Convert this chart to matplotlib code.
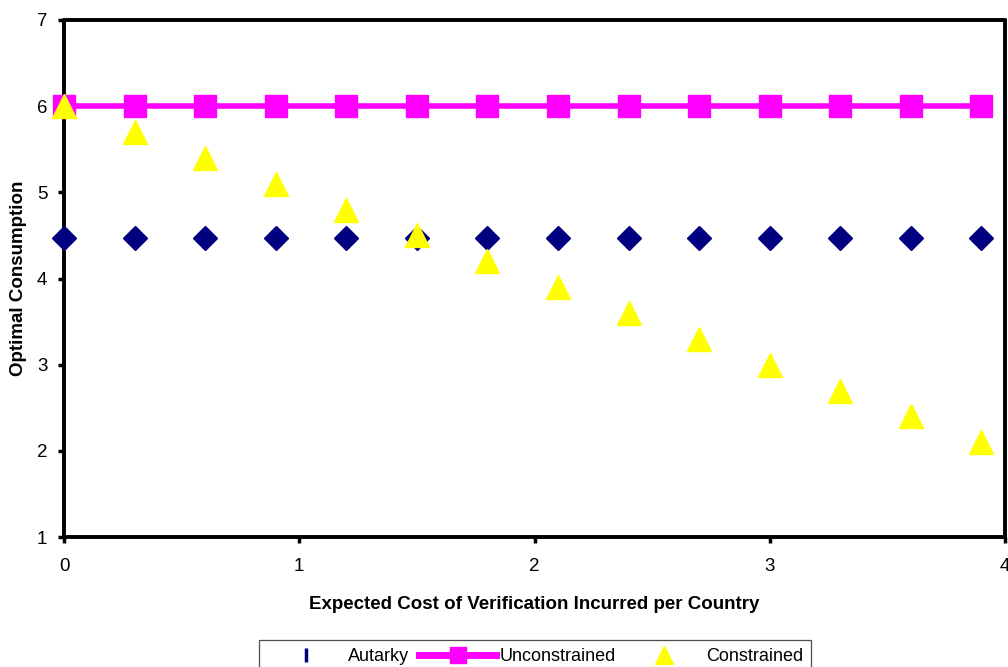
import matplotlib.pyplot as plt
from matplotlib.lines import Line2D

plt.rcParams['font.family'] = ['Liberation Sans', 'DejaVu Sans']

# expected cost of verification per country
cost = [0.0, 0.3, 0.6, 0.9, 1.2, 1.5, 1.8, 2.1, 2.4, 2.7, 3.0, 3.3, 3.6, 3.9]
autarky = [4.47] * 14
unconstrained = [6.0] * 14
constrained = [6.0, 5.7, 5.4, 5.1, 4.8, 4.5, 4.2, 3.9, 3.6, 3.3, 3.0, 2.7, 2.4, 2.1]

x_ticks = [0, 1, 2, 3, 4]
y_ticks = [1, 2, 3, 4, 5, 6, 7]

fig = plt.figure(figsize=(10.08, 6.67), dpi=100)
ax = fig.add_axes([64 / 1008, 130 / 667, 941 / 1008, 517 / 667])

ax.plot(cost, autarky, linestyle='none', marker='D', markersize=12,
        color='#000080', clip_on=False, zorder=3)
ax.plot(cost, unconstrained, color='#ff00ff', linewidth=4, marker='s',
        markersize=16, clip_on=False, zorder=4)
ax.plot(cost, constrained, linestyle='none', marker='^', markersize=17,
        color='#ffff00', clip_on=False, zorder=5)

ax.set_xlim(0, 4)
ax.set_ylim(1, 7)
ax.set_xticks(x_ticks)
ax.set_yticks(y_ticks)
ax.tick_params(direction='out', length=4, width=2.5, labelsize=13.5)
ax.tick_params(axis='x', pad=11)
ax.tick_params(axis='y', pad=8)

for side in ['left', 'bottom', 'top', 'right']:
    ax.spines[side].set_linewidth(2.8)
    ax.spines[side].set_capstyle('round')

ax.set_xlabel('Expected Cost of Verification Incurred per Country',
              fontsize=13.5, fontweight='bold', labelpad=15)
ax.set_ylabel('Optimal Consumption', fontsize=13.5, fontweight='bold',
              labelpad=7)

handles = [
    Line2D([], [], linestyle='none', marker='|', markersize=10,
           markeredgewidth=2.5, color='#000080'),
    Line2D([], [], color='#ff00ff', linewidth=5, marker='s', markersize=11),
    Line2D([], [], linestyle='none', marker='^', markersize=13,
           color='#ffff00'),
]
labels = ['Autarky', 'Unconstrained', 'Constrained']
leg = fig.legend(handles, labels, loc='upper left', ncol=3,
                 bbox_to_anchor=(259 / 1008, 1 - 640 / 667), borderaxespad=0,
                 fontsize=13, frameon=True, fancybox=False,
                 edgecolor='#222222', handlelength=4.3, columnspacing=0.55,
                 handletextpad=0.16, borderpad=0.45)
leg.get_frame().set_linewidth(0.9)

fig.savefig('out.png', dpi=100)
